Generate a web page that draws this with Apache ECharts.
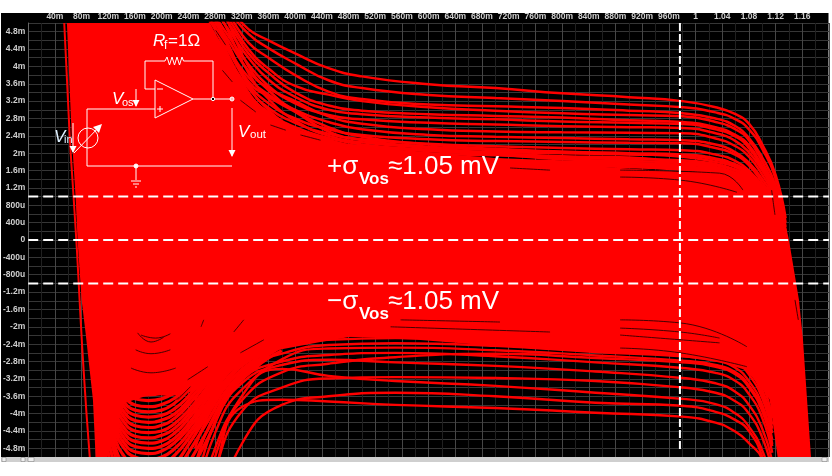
<!DOCTYPE html>
<html><head><meta charset="utf-8">
<style>html,body{margin:0;padding:0;background:#fff}#c{width:832px;height:476px}</style>
<script src="https://cdn.jsdelivr.net/npm/echarts@6/dist/echarts.min.js"></script>
</head><body><div id="c"></div>
<script>
const xTickLabels = ['40m','80m','120m','160m','200m','240m','280m','320m','360m','400m','440m','480m','520m','560m','600m','640m','680m','720m','760m','800m','840m','880m','920m','960m','1','1.04','1.08','1.12','1.16'];
const yTickLabels = ['-4.8m','-4.4m','-4m','-3.6m','-3.2m','-2.8m','-2.4m','-2m','-1.6m','-1.2m','-800u','-400u','0','400u','800u','1.2m','1.6m','2m','2.4m','2.8m','3.2m','3.6m','4m','4.4m','4.8m'];
const sigmaMv = 1.05;
const cursorVin = 0.9766;

const massEdge = [[.058,5],[.065,2.46],[.071,.99],[.074,0],[.080,-1.38],[.086,-2.14],[.097,-3.68],[.101,-5],[.119,-5],[.128,-4.4],[.145,-3.75],[.184,-3.56],[.214,-3.6],[.243,-3.5],[.278,-3.29],[.318,-2.88],[.358,-2.58],[.438,-2.35],[.483,-2.23],[.583,-2.30],[.682,-2.42],[.782,-2.53],[.887,-2.60],[.977,-2.69],[1.036,-2.81],[1.074,-2.99],[1.096,-3.34],[1.111,-3.68],[1.123,-5],[1.173,-5],[1.161,-2.30],[1.155,-1.38],[1.140,0],[1.126,.99],[1.111,.99],[1.096,1.15],[1.074,1.43],[1.036,1.57],[.979,1.57],[.887,1.66],[.782,1.77],[.682,1.91],[.583,2.03],[.483,2.19],[.408,2.53],[.363,2.88],[.326,3.45],[.296,4.37],[.269,5]];

const leftEdgeCurve = [[.054,5],[.062,2.46],[.068,.99],[.073,-.23],[.077,-1.38],[.083,-2.99],[.092,-4.95],[.096,-5.6]];

const xUpper = [.27,.30,.33,.36,.40,.45,.50,.60,.70,.80,.90,.98,1.03,1.06,1.08,1.10,1.12,1.135];
const upperCurves = [
[6,5.4,4.86,4.6,4.3,3.96,3.77,3.59,3.5,3.38,3.29,3.2,3.06,2.9,2.68,2.2,1.5,.5],
[6,5.3,4.75,4.42,4.07,3.68,3.5,3.34,3.27,3.2,3.12,3.06,2.94,2.78,2.55,2.1,1.4,.4],
[5.8,5.2,4.55,4.2,3.8,3.42,3.25,3.12,3.08,3.04,2.98,2.92,2.8,2.62,2.35,1.9,1.25,.3],
[5.7,5.1,4.4,3.95,3.55,3.35,3.2,3.06,2.98,2.92,2.88,2.85,2.72,2.55,2.3,1.8,1.15,.2],
[5.6,5,4.3,3.85,3.4,3.1,2.98,2.9,2.86,2.82,2.76,2.72,2.6,2.42,2.18,1.7,1.1,.15],
[5.5,4.85,4.2,3.7,3.3,3.0,2.9,2.82,2.78,2.73,2.7,2.67,2.55,2.38,2.12,1.65,1.05,.1],
[5.4,4.7,4.05,3.55,3.15,2.88,2.78,2.7,2.66,2.62,2.6,2.58,2.46,2.28,2.02,1.6,1.0,.05],
[5.3,4.6,3.9,3.5,3.2,2.85,2.68,2.55,2.5,2.48,2.47,2.46,2.34,2.16,1.92,1.5,.95,0],
[5.2,4.4,3.75,3.35,3.0,2.72,2.55,2.42,2.38,2.35,2.32,2.3,2.2,2.02,1.78,1.4,.9,0],
[5.1,4.35,3.6,3.15,2.8,2.55,2.42,2.32,2.28,2.26,2.24,2.23,2.12,1.96,1.72,1.32,.85,-.05],
[5.0,4.2,3.5,3.05,2.7,2.45,2.32,2.22,2.16,2.12,2.09,2.07,1.97,1.82,1.6,1.25,.8,-.1],
[4.9,4.1,3.35,2.95,2.6,2.35,2.2,2.08,2.03,2.0,1.97,1.95,1.85,1.72,1.52,1.2,.75,-.1],
[4.8,3.95,3.25,2.8,2.45,2.25,2.12,2.0,1.95,1.9,1.86,1.84,1.75,1.62,1.44,1.12,.7,-.15],
[4.75,3.85,3.15,2.7,2.35,2.12,2.0,1.88,1.82,1.79,1.76,1.74,1.65,1.52,1.35,1.05,.65,-.15],
[5.9,5.0,4.0,3.45,2.98,2.6,2.38,2.2,2.1,2.04,2.0,1.97,1.88,1.74,1.55,1.22,.78,-.1],
[5.5,4.5,3.65,3.3,2.95,2.5,2.3,2.15,2.07,2.02,1.98,1.92,1.8,1.68,1.48,1.15,.72,-.12],
[5.7,4.8,3.85,3.25,2.75,2.4,2.25,2.12,2.0,1.93,1.9,1.8,1.72,1.6,1.4,1.1,.68,-.15],
[5.3,4.45,3.55,3.0,2.55,2.28,2.16,2.05,1.97,1.86,1.82,1.77,1.68,1.55,1.38,1.08,.66,-.15],
[4.6,3.8,3.05,2.6,2.25,2.05,1.95,1.84,1.78,1.74,1.72,1.68,1.6,1.48,1.3,1.02,.62,-.15],
[5.2,4.25,3.4,2.9,2.5,2.2,2.05,1.93,1.86,1.81,1.78,1.7,1.62,1.5,1.34,1.04,.64,-.15],
[4.5,3.65,3.0,2.5,2.18,2.0,1.9,1.8,1.74,1.71,1.68,1.62,1.55,1.44,1.28,1.0,.6,-.2],
[5.0,4.05,3.28,2.78,2.38,2.1,1.98,1.86,1.8,1.76,1.7,1.66,1.57,1.46,1.3,1.0,.6,-.2]
];

const xLower = [.25,.28,.32,.38,.45,.55,.70,.85,.98,1.03,1.06,1.08,1.10,1.115];
const lowerCurves = [
[-8,-6.5,-4.7,-3.8,-3.6,-3.52,-3.6,-3.75,-3.82,-3.96,-4.15,-4.4,-5,-6],
[-7,-5.3,-3.85,-3.68,-3.72,-3.8,-3.87,-3.98,-4.07,-4.21,-4.42,-4.68,-5.05,-6],
[-6,-4.45,-3.45,-2.97,-3.13,-3.25,-3.36,-3.52,-3.66,-3.78,-4.0,-4.3,-4.85,-5.6],
[-7,-5.3,-3.95,-3.4,-3.19,-3.16,-3.18,-3.25,-3.4,-3.52,-3.72,-4.0,-4.55,-5.3],
[-5.8,-4.2,-3.3,-2.88,-2.76,-2.82,-2.9,-3.03,-3.18,-3.3,-3.5,-3.8,-4.35,-5.1],
[-5.2,-4,-3.2,-2.8,-2.65,-2.6,-2.68,-2.82,-2.95,-3.06,-3.25,-3.55,-4.1,-4.9],
[-4.8,-3.75,-3.0,-2.62,-2.42,-2.38,-2.44,-2.58,-2.68,-2.78,-2.95,-3.25,-3.8,-4.6],
[-4.5,-3.5,-2.8,-2.45,-2.3,-2.26,-2.3,-2.42,-2.52,-2.62,-2.8,-3.1,-3.65,-4.45],
[-4.2,-3.3,-2.6,-2.3,-2.2,-2.2,-2.25,-2.35,-2.42,-2.52,-2.7,-3.0,-3.55,-4.35],
[-4.0,-3.1,-2.5,-2.22,-2.1,-2.08,-2.14,-2.24,-2.34,-2.44,-2.62,-2.9,-3.45,-4.25],
[-3.7,-2.9,-2.35,-2.1,-2.0,-1.98,-2.02,-2.12,-2.2,-2.3,-2.46,-2.75,-3.3,-4.1],
[-6.5,-4.8,-3.7,-3.05,-2.85,-2.7,-2.62,-2.72,-2.82,-2.92,-3.1,-3.4,-3.95,-4.75],
[-6.8,-5.0,-3.6,-2.75,-2.5,-2.48,-2.54,-2.66,-2.78,-2.88,-3.05,-3.35,-3.9,-4.7]
];

const xArc = [.11,.12,.13,.14,.16,.18,.20,.22,.24,.27,.30,.34,.38];
const arcCurves = [
[-1.7,-2.45,-2.95,-3.25,-3.52,-3.57,-3.53,-3.38,-3.1,-2.55,-2.0,-1.7,-1.6],
[-1.8,-2.5,-3.05,-3.38,-3.66,-3.70,-3.66,-3.5,-3.22,-2.68,-2.1,-1.8,-1.7],
[-1.95,-2.65,-3.2,-3.5,-3.8,-3.84,-3.79,-3.64,-3.36,-2.8,-2.22,-1.85,-1.75],
[-2.0,-2.75,-3.3,-3.65,-3.92,-3.96,-3.92,-3.75,-3.46,-2.88,-2.3,-1.95,-1.8],
[-2.1,-2.85,-3.42,-3.76,-4.04,-4.08,-4.04,-3.88,-3.6,-3.05,-2.45,-2.05,-1.85],
[-2.2,-2.98,-3.55,-3.88,-4.16,-4.2,-4.15,-4.0,-3.7,-3.15,-2.55,-2.12,-1.9],
[-2.3,-3.1,-3.68,-4.0,-4.28,-4.32,-4.27,-4.1,-3.8,-3.25,-2.62,-2.2,-1.95],
[-2.4,-3.2,-3.8,-4.12,-4.4,-4.44,-4.4,-4.22,-3.93,-3.35,-2.75,-2.3,-2.0],
[-2.5,-3.32,-3.92,-4.25,-4.52,-4.56,-4.5,-4.33,-4.02,-3.45,-2.85,-2.4,-2.05],
[-2.6,-3.45,-4.04,-4.36,-4.64,-4.68,-4.63,-4.44,-4.12,-3.52,-2.9,-2.45,-2.1],
[-2.7,-3.55,-4.15,-4.48,-4.76,-4.8,-4.75,-4.56,-4.24,-3.62,-3.0,-2.5,-2.15],
[-2.8,-3.68,-4.28,-4.6,-4.88,-4.92,-4.86,-4.66,-4.34,-3.72,-3.05,-2.55,-2.2],
[-2.9,-3.8,-4.4,-4.72,-5,-5.05,-5,-4.8,-4.46,-3.82,-3.15,-2.62,-2.25],
[-3.05,-3.95,-4.56,-4.9,-5.2,-5.25,-5.18,-4.95,-4.58,-3.9,-3.2,-2.68,-2.3],
[-3.2,-4.15,-4.75,-5.1,-5.4,-5.45,-5.38,-5.15,-4.72,-4,-3.3,-2.75,-2.35],
[-3.4,-4.35,-4.95,-5.3,-5.6,-5.65,-5.58,-5.35,-4.9,-4.15,-3.4,-2.82,-2.4],
[-3.6,-4.6,-5.2,-5.6,-5.9,-5.95,-5.85,-5.6,-5.15,-4.35,-3.5,-2.88,-2.45],
[-3.9,-4.9,-5.5,-5.9,-6.2,-6.25,-6.15,-5.9,-5.4,-4.55,-3.6,-2.95,-2.55]
];

const gapStrokes = [
[[.154,-2.95],[.184,-3.06],[.221,-2.95]],
[[.161,-2.53],[.184,-2.62],[.213,-2.53]],
[[.169,-2.19],[.191,-2.26],[.213,-2.16]],
[[.164,-2.14],[.184,-2.35],[.203,-2.24]],
[[.308,-2.12],[.323,-1.84]],
[[.259,-2.0],[.263,-1.84]],
[[.318,-2.60],[.353,-2.30]],
[[.239,-3.22],[.269,-2.92]],
[[.224,-3.68],[.243,-3.38]],
[[.543,-2.0],[.782,-2.12]],
[[.558,-1.84],[.707,-1.89]],
[[.887,-2.03],[.977,-2.12],[1.036,-2.26]],
[[.887,-2.19],[1.036,-2.37]],
[[.887,-2.49],[.977,-2.60],[1.077,-2.92]],
[[.887,-1.84],[.977,-1.91],[1.077,-2.46]],
[[.887,1.61],[1.036,1.54],[1.071,1.15]],
[[.887,1.45],[.977,1.38],[1.062,1.10]],
[[.722,1.66],[.782,1.61]],
[[.281,4.83],[.296,4.49]],
[[.291,3.91],[.306,3.64]],
[[.318,3.22],[.341,2.95]],
[[.363,2.65],[.386,2.53]],
[[.408,2.42],[.438,2.30]],
[[1.149,-1.38],[1.154,-1.84]],
[[1.114,1.15],[1.119,.58]]
];

const pairs = (xs, ys) => xs.map((x, i) => [x, ys[i]]);
const RED = '#ff0000';
const redLine = (data, width) => ({type:'line', data, smooth:0.5, showSymbol:false, silent:true, z:3, lineStyle:{color:RED, width:width}, animation:false});
const whiteDash = (data, dash) => ({type:'line', data, showSymbol:false, silent:true, z:6, lineStyle:{color:'#fff', width:2, type:dash}, animation:false});

const series = [];
series.push({type:'custom', silent:true, z:2, animation:false, data:[[0,0]],
  renderItem:(p, api) => ({type:'polygon', shape:{points:massEdge.map(v => api.coord(v))}, style:{fill:RED}})});
series.push(redLine(leftEdgeCurve, 2));
upperCurves.forEach(c => series.push(redLine(pairs(xUpper, c), 2.5)));
lowerCurves.forEach(c => series.push(redLine(pairs(xLower, c), 2.4)));
arcCurves.forEach(c => series.push(redLine(pairs(xArc, c), 3.2)));
gapStrokes.forEach(g => series.push({type:'line', data:g, smooth:0.5, showSymbol:false, silent:true, z:4, lineStyle:{color:'#300000', width:0.9}, animation:false}));
series.push(whiteDash([[0,sigmaMv-.05],[1.2,sigmaMv-.05]], [10,5]));
series.push(whiteDash([[0,0],[1.2,0]], [10,5]));
series.push(whiteDash([[0,-sigmaMv+.05],[1.2,-sigmaMv+.05]], [10,5]));
series.push(whiteDash([[cursorVin,5],[cursorVin,-4.83]], [8,3]));

const W = {stroke:'#fff', lineWidth:1, fill:null};
const pl = pts => ({type:'polyline', z:100, silent:true, shape:{points:pts}, style:W});
const arrow = (x, y1, y2) => [pl([[x,y1],[x,y2]]), {type:'polygon', z:100, silent:true, shape:{points:[[x-3.5,y2-6],[x+3.5,y2-6],[x,y2+1]]}, style:{fill:'#fff'}}];
const dot = (x, y, r, f) => ({type:'circle', z:100, silent:true, shape:{cx:x, cy:y, r}, style:{fill:f, stroke:'#fff', lineWidth:1}});
const txt = (x, y, text, font, extra) => ({type:'text', z:101, silent:true, x, y, style:Object.assign({text, fill:'#fff', font, textVerticalAlign:'middle', verticalAlign:'middle'}, extra||{})});
const F = '"Liberation Sans",Arial,sans-serif';
const I17 = 'italic 17px '+F, S11 = '11px '+F;

const graphic = [
 {type:'rect', z:-5, silent:true, shape:{x:1,y:13,width:827.5,height:444}, style:{fill:'#000'}},
 {type:'rect', z:50, silent:true, shape:{x:1,y:457,width:828,height:5}, style:{fill:'#cfcfcf'}},
 {type:'rect', z:51, silent:true, shape:{x:2,y:457.5,width:4,height:4}, style:{fill:'#eee',stroke:'#777',lineWidth:.5}},
 {type:'rect', z:51, silent:true, shape:{x:21,y:457.5,width:4,height:4}, style:{fill:'#eee',stroke:'#777',lineWidth:.5}},
 {type:'rect', z:51, silent:true, shape:{x:28,y:457.5,width:6,height:4}, style:{fill:'#eee',stroke:'#777',lineWidth:.5}},
 {type:'rect', z:51, silent:true, shape:{x:822,y:457.5,width:5,height:4}, style:{fill:'#eee',stroke:'#777',lineWidth:.5}},
 pl([[155,89],[145,89],[145,61],[165,61]]),
 pl([[165,61],[167,57],[169.5,65],[172,57],[174.5,65],[177,57],[179.5,65],[182,57],[183.5,61]]),
 pl([[183.5,61],[213,61],[213,99]]),
 pl([[155,80],[193,99],[155,118],[155,80]]),
 pl([[157,89],[163,89]]),
 pl([[157,109],[163,109]]), pl([[160,106],[160,112]]),
 pl([[155,109],[87,109],[87,166],[232,166]]),
 pl([[193,99],[232,99]]),
 {type:'circle', z:100, silent:true, shape:{cx:88,cy:138,r:10}, style:W},
 pl([[74,153],[100,126]]),
 {type:'polygon', z:100, silent:true, shape:{points:[[102,124],[93,127],[99,133]]}, style:{fill:'#fff'}},
 ...arrow(73,123,152),
 ...arrow(136,89,106),
 ...arrow(232,108,156),
 dot(136,166,2,'#fff'),
 pl([[136,166],[136,180]]),
 pl([[131,181],[141,181]]), pl([[133,184],[139,184]]), pl([[135,187],[137,187]]),
 dot(213,99,1.7,'#000'),
 dot(232,99,2,'#ffb0b0'),
 txt(153,41,'R','italic 17px '+F), txt(164,46,'f','12px '+F), txt(168,41,'=1Ω','17px '+F),
 txt(112,99,'V',I17), txt(122,103,'os',S11),
 txt(238,132,'V',I17), txt(250,135,'out','11.5px '+F),
 txt(54,137,'V',I17,{fill:'#dff0ff'}), txt(64,140,'in',S11,{fill:'#dff0ff'}),
 txt(327,167,'+σ','26px '+F), txt(359,179,'Vos','bold 17px '+F), txt(388,167,'≈1.05 mV','26px '+F),
 txt(327,302,'−σ','26px '+F), txt(359,314,'Vos','bold 17px '+F), txt(388,302,'≈1.05 mV','26px '+F)
];

const chart = echarts.init(document.getElementById('c'), null, {renderer:'canvas'});
chart.setOption({
  animation:false, backgroundColor:'#fff',
  grid:{left:27.3, top:23, width:802, height:434, containLabel:false, show:false},
  xAxis:{type:'value', position:'top', min:0, max:1.2, interval:.04,
    axisLine:{show:false}, axisTick:{show:false},
    axisLabel:{color:'#cfcfcf', fontSize:8.5, fontWeight:'bold', fontFamily:F, margin:2, showMinLabel:true, showMaxLabel:true,
      formatter:v => { const i = Math.round(v/.04); return xTickLabels[i-1] || ''; }},
    splitLine:{show:true, lineStyle:{color:'#464646', width:1}},
    minorTick:{show:false, splitNumber:2},
    minorSplitLine:{show:true, lineStyle:{color:'#202020', width:1}}},
  yAxis:{type:'value', min:-5, max:5, interval:.2,
    axisLine:{show:true, lineStyle:{color:'#666', width:1}}, axisTick:{show:false},
    axisLabel:{color:'#cfcfcf', fontSize:8.5, fontWeight:'bold', fontFamily:F, margin:3,
      formatter:v => { const k = Math.round(v/.2); if (k % 2 !== 0) return ''; return yTickLabels[k/2+12] || ''; }},
    splitLine:{show:true, lineStyle:{color:'#363636', width:1}}},
  series, graphic
});
</script></body></html>
